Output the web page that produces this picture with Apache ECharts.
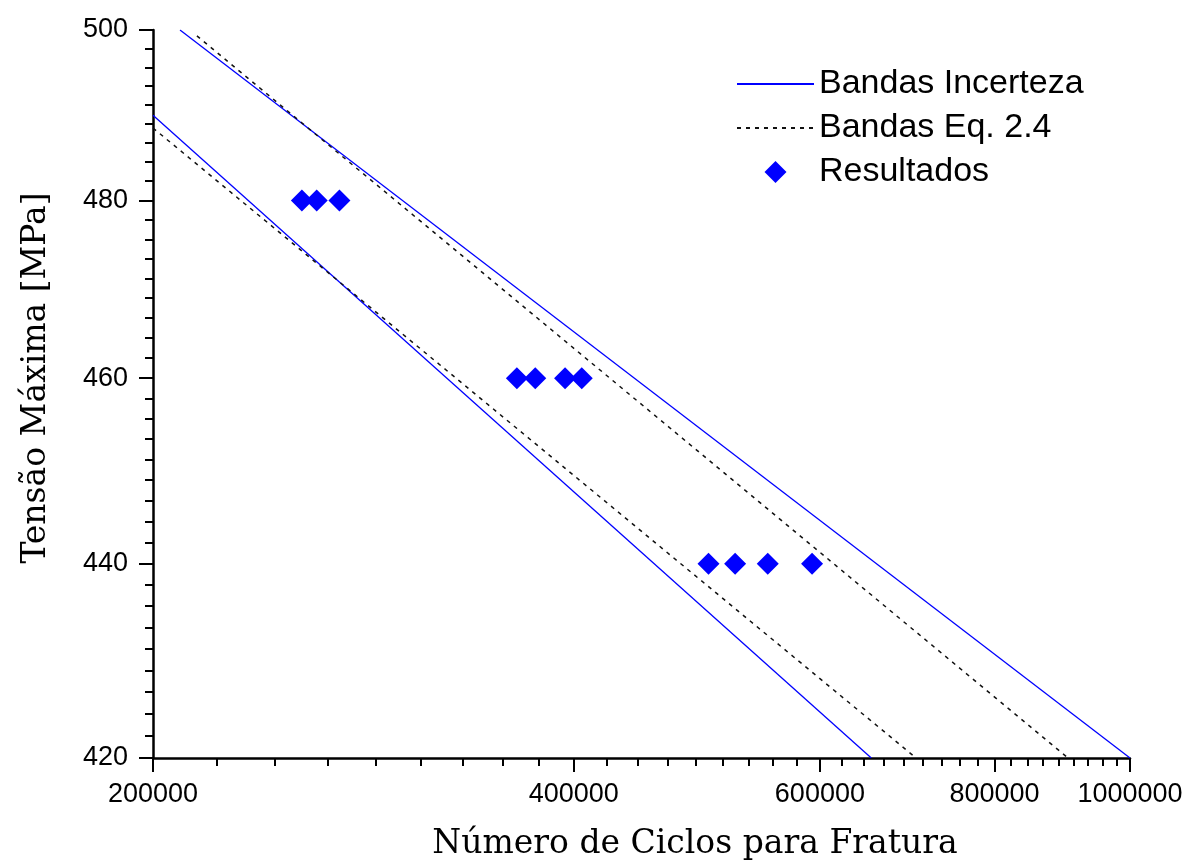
<!DOCTYPE html>
<html><head><meta charset="utf-8">
<script src="https://cdn.jsdelivr.net/npm/echarts@6/dist/echarts.min.js"></script>
<style>html,body{margin:0;padding:0;background:#fff}#c{width:1187px;height:866px}</style>
</head><body><div id="c"></div>
<script>
// Tick labels (both axes are logarithmic)
const xTickLabels = [200000, 400000, 600000, 800000, 1000000];
const yTickLabels = [420, 440, 460, 480, 500];
// Uncertainty bands (straight in log-log)
const bandUpperN = [209100, 1000000];
const bandUpperS = [500, 420];
const bandLowerN = [200000, 653000];
const bandLowerS = [489.9, 420];
// Eq. 2.4 bands
const eqUpperN = [215000, 903000];
const eqUpperS = [499.3, 420];
const eqLowerN = [200000, 703000];
const eqLowerS = [488.4, 420];
// Test results
const resultN = [255600, 261900, 271900, 364200, 375400, 394300, 405300, 499400, 521800, 550600, 592300];
const resultS = [480, 480, 480, 460, 460, 460, 460, 440, 440, 440, 440];

const L = Math.log10;
function pairs(ns, ss) { return ns.map((n, i) => [L(n), L(ss[i])]); }
function minors(majors) {
  const out = [];
  for (let i = 0; i < majors.length - 1; i++) {
    const a = majors[i], b = majors[i + 1], st = (b - a) / 9;
    for (let k = 1; k < 9; k++) out.push(L(a + k * st));
  }
  return out;
}
const xMin = L(xTickLabels[0]), xMax = L(xTickLabels[xTickLabels.length - 1]);
const yMin = L(yTickLabels[0]), yMax = L(yTickLabels[yTickLabels.length - 1]);
const fmt = v => String(Math.round(Math.pow(10, v)));
const BLUE = '#0000ff';
const DASH = '#111111';
const axisLineStyle = { color: '#000', width: 2.5 };
const hiddenMarker = { color: 'rgba(0,0,0,0)', borderWidth: 0, opacity: 0 };
// legend diamond centred in a 77x22 box (degenerate corner points fix the bounding box)
const diamondIcon = 'path://M0,0L0,0M77,22L77,22M38.5,0L49.5,11L38.5,22L27.5,11Z';

const chart = echarts.init(document.getElementById('c'), null, { renderer: 'canvas' });
chart.setOption({
  animation: false,
  backgroundColor: '#fff',
  grid: { left: 153, right: 57, top: 30, bottom: 108, containLabel: false },
  legend: {
    orient: 'vertical', left: 731, top: 62,
    itemWidth: 77, itemHeight: 22, itemGap: 10, symbolKeepAspect: true,
    textStyle: { fontFamily: 'Liberation Sans', fontSize: 34, lineHeight: 33, color: '#000' },
    data: [
      { name: 'Bandas Incerteza', itemStyle: hiddenMarker },
      { name: 'Bandas Eq. 2.4', itemStyle: hiddenMarker },
      { name: 'Resultados', icon: diamondIcon, itemStyle: { color: BLUE, opacity: 1, borderWidth: 0 } }
    ]
  },
  xAxis: [
    {
      type: 'value', min: xMin, max: xMax, position: 'bottom',
      name: 'Número de Ciclos para Fratura', nameLocation: 'middle', nameGap: 70,
      nameTextStyle: { fontFamily: 'DejaVu Serif', fontSize: 33, color: '#000', padding: [0, 0, 0, 107] },
      axisLine: { show: true, lineStyle: axisLineStyle },
      axisTick: { show: true, customValues: xTickLabels.map(L), length: 14, lineStyle: { color: '#000', width: 2 } },
      axisLabel: { customValues: xTickLabels.map(L), formatter: fmt, fontFamily: 'Liberation Sans', fontSize: 27, color: '#000', margin: 23 },
      splitLine: { show: false }
    },
    {
      type: 'value', min: xMin, max: xMax, position: 'bottom', offset: 0,
      axisLine: { show: false },
      axisTick: { show: true, customValues: minors(xTickLabels), length: 8, lineStyle: { color: '#000', width: 2 } },
      axisLabel: { show: false },
      splitLine: { show: false }
    }
  ],
  yAxis: [
    {
      type: 'value', min: yMin, max: yMax, position: 'left',
      name: 'Tensão Máxima [MPa]', nameLocation: 'middle', nameGap: 100,
      nameTextStyle: { fontFamily: 'DejaVu Serif', fontSize: 33, color: '#000', padding: [0, 0, 0, 32] },
      axisLine: { show: true, lineStyle: axisLineStyle },
      axisTick: { show: true, customValues: yTickLabels.map(L), length: 14, lineStyle: { color: '#000', width: 2 } },
      axisLabel: { customValues: yTickLabels.map(L), formatter: fmt, fontFamily: 'Liberation Sans', fontSize: 27, color: '#000', margin: 25 },
      splitLine: { show: false }
    },
    {
      type: 'value', min: yMin, max: yMax, position: 'left', offset: 0,
      axisLine: { show: false },
      axisTick: { show: true, customValues: minors(yTickLabels), length: 8, lineStyle: { color: '#000', width: 2 } },
      axisLabel: { show: false },
      splitLine: { show: false }
    }
  ],
  series: [
    { name: 'Bandas Incerteza', type: 'line', data: pairs(bandUpperN, bandUpperS), symbol: 'none', showSymbol: false,
      lineStyle: { color: BLUE, width: 1.3 }, itemStyle: { color: BLUE } },
    { name: 'Bandas Incerteza', type: 'line', data: pairs(bandLowerN, bandLowerS), symbol: 'none', showSymbol: false,
      lineStyle: { color: BLUE, width: 1.3 }, itemStyle: { color: BLUE } },
    { name: 'Bandas Eq. 2.4', type: 'line', data: pairs(eqUpperN, eqUpperS), symbol: 'none', showSymbol: false,
      lineStyle: { color: DASH, width: 1.5, type: [4, 5] }, itemStyle: { color: DASH } },
    { name: 'Bandas Eq. 2.4', type: 'line', data: pairs(eqLowerN, eqLowerS), symbol: 'none', showSymbol: false,
      lineStyle: { color: DASH, width: 1.5, type: [4, 5] }, itemStyle: { color: DASH } },
    { name: 'Resultados', type: 'scatter', data: pairs(resultN, resultS), symbol: 'diamond', symbolSize: 22,
      itemStyle: { color: BLUE, opacity: 1 } }
  ]
});
</script></body></html>
